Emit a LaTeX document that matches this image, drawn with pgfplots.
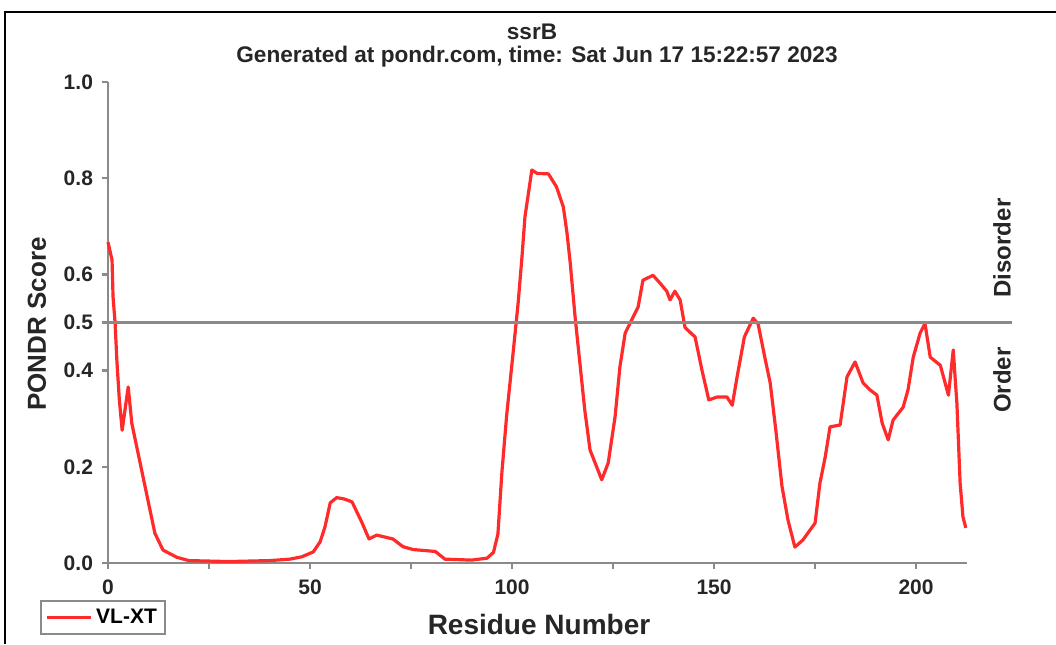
\documentclass[border=0pt]{standalone}
\usepackage{pgfplots}
\pgfplotsset{compat=1.18}
\usepackage{fontspec}
\setmainfont{Liberation Sans}
\definecolor{axgray}{HTML}{8A8A8A}
\definecolor{pred}{HTML}{FF2A2A}
\begin{document}
\begin{tikzpicture}
\useasboundingbox (0pt,0pt) rectangle (528pt,322pt);
\begin{axis}[
  at={(54pt,40.5pt)}, anchor=south west,
  scale only axis, width=429.5pt, height=240.5pt,
  xmin=0, xmax=212.6, ymin=0, ymax=1,
  axis lines=left, axis line style={-, axgray, line width=1.4pt},
  clip=false,
  xtick={0,50,100,150,200}, minor xtick={25,75,125,175},
  ytick={0,0.2,0.4,0.5,0.6,0.8,1.0},
  yticklabel style={/pgf/number format/fixed, /pgf/number format/precision=1, /pgf/number format/zerofill, xshift=-1pt},
  /pgf/number format/assume math mode=true,
  tick align=outside, tick pos=left,
  major tick length=3pt, minor tick length=3pt,
  tick style={axgray, line width=1.2pt},
  ticklabel style={font=\fontsize{10.5}{12}\bfseries\selectfont, text=black!85},
  xticklabel style={yshift=-2pt},
  legend style={at={(-0.0792,-0.0769)}, anchor=north west, draw=axgray, line width=1pt,
    font=\fontsize{10.5}{12}\bfseries\selectfont, inner sep=2pt,
    legend cell align=left},
  legend image code/.code={\draw[pred, line width=1.6pt] (0pt,0pt) -- (17pt,0pt); \path (17pt,0pt) -- (22pt,0pt);},
]
\addplot[pred, line width=1.6pt, line join=round] coordinates {
(0,0.667) (1.0,0.63) (1.25,0.553) (1.75,0.5) (2.2,0.42) (2.8,0.34) (3.5,0.276)
(5,0.366) (5.9,0.29)
(7.9,0.21) (9.9,0.13) (11.6,0.062) (13.6,0.027) (17,0.012) (20,0.005) (30,0.003)
(40,0.005) (45,0.008) (48,0.013) (50.8,0.023) (52.5,0.044) (53.7,0.075) (55,0.125)
(56.6,0.136) (58.5,0.133) (60.4,0.127) (62.8,0.085) (64.6,0.05) (66.5,0.058)
(70.5,0.05) (73,0.034) (75.5,0.028) (81,0.024) (83.4,0.008) (90,0.006) (93.8,0.01)
(95.4,0.022) (96.5,0.06) (97.5,0.19) (98.7,0.31) (100.3,0.44) (101.5,0.54)
(102.4,0.63) (103.2,0.72) (104.9,0.817) (106.2,0.81) (109,0.809) (111,0.782)
(112.7,0.74) (113.6,0.686) (114.4,0.624) (115.6,0.512) (116.8,0.415) (118,0.318)
(119.3,0.235) (122.2,0.173) (123.8,0.208) (125.5,0.304) (126.7,0.408) (128,0.478)
(130,0.512) (131.2,0.532) (132.4,0.588) (134.9,0.598) (136.6,0.582) (138.3,0.565)
(139.1,0.547) (140.3,0.565) (141.6,0.547) (142.8,0.49) (144,0.48) (145.3,0.47)
(147,0.401) (148.7,0.339) (150.7,0.345) (153.2,0.345) (154.5,0.328) (155.7,0.387)
(157.5,0.47) (159.7,0.509) (160.9,0.497) (162.5,0.43) (163.9,0.374) (165.3,0.275)
(166.8,0.16) (168.3,0.089) (170,0.033) (172,0.048) (175,0.083) (176.2,0.166)
(177.5,0.22) (178.7,0.283) (181.2,0.287) (182.9,0.387) (184.9,0.418) (186.9,0.374)
(188.6,0.36) (190.3,0.349) (191.6,0.291) (193.1,0.256) (194.3,0.297) (196.8,0.324)
(198,0.36) (199.3,0.428) (201,0.478) (202.2,0.498) (203.5,0.428) (206,0.411)
(208,0.349) (209.2,0.443) (209.7,0.38) (210.1,0.332) (210.9,0.166) (211.6,0.096)
(212.3,0.073)
};
\addlegendentry{VL-XT}
\draw[axgray, line width=1.2pt] (axis cs:0,0.5) -- (axis cs:223.7,0.5);
\end{axis}
% frame
\draw[black, line width=0.75pt] (2.5pt,0pt) -- (2.5pt,316pt) -- (530pt,316pt);
% titles
\node[font=\fontsize{11.3}{13}\bfseries\selectfont, text=black!85] at (266pt,306pt) {ssrB};
\node[font=\fontsize{11.3}{13}\bfseries\selectfont, text=black!85] at (268.5pt,293.5pt) {Generated at pondr.com, time: Sat Jun 17 15:22:57 2023};
\node[font=\fontsize{13}{15}\bfseries\selectfont, text=black!85, rotate=90] at (18.5pt,160pt) {PONDR Score};
\node[font=\fontsize{14}{16}\bfseries\selectfont, text=black!85] at (269.5pt,10pt) {Residue Number};
\node[font=\fontsize{12}{14}\bfseries\selectfont, text=black!85, rotate=90] at (501pt,198pt) {Disorder};
\node[font=\fontsize{12}{14}\bfseries\selectfont, text=black!85, rotate=90] at (501pt,132pt) {Order};
\end{tikzpicture}
\end{document}
